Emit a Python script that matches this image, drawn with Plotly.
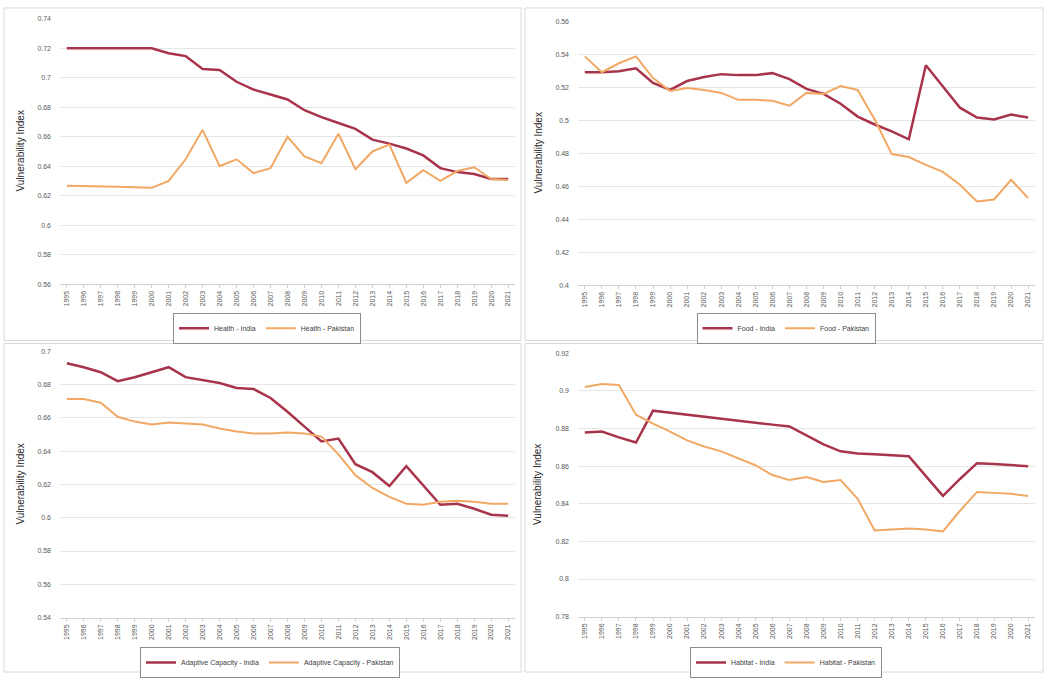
import plotly.graph_objects as go

years = list(range(1995, 2022))

health_india = [0.72, 0.72, 0.72, 0.72, 0.72, 0.72, 0.7167, 0.7147, 0.706, 0.7053, 0.6973, 0.692,
                0.6887, 0.6853, 0.678, 0.6733, 0.6693, 0.6653, 0.658, 0.6553, 0.652, 0.6473,
                0.6387, 0.636, 0.6347, 0.6313, 0.6313]
health_pakistan = [0.6267, 0.6263, 0.626, 0.626, 0.6257, 0.6253, 0.63, 0.6447, 0.6647, 0.64, 0.6447,
                   0.6353, 0.6387, 0.66, 0.6467, 0.642, 0.662, 0.638, 0.65, 0.6547, 0.6287, 0.6373,
                   0.63, 0.6367, 0.6393, 0.6313, 0.6307]

food_india = [0.5294, 0.5294, 0.53, 0.5318, 0.5228, 0.5186, 0.524, 0.5264, 0.5282, 0.5276, 0.5276,
              0.5288, 0.5252, 0.5192, 0.5162, 0.5102, 0.5024, 0.4976, 0.4934, 0.4886, 0.5336,
              0.521, 0.5078, 0.5018, 0.5006, 0.5036, 0.5018]
food_pakistan = [0.539, 0.5294, 0.5348, 0.539, 0.5258, 0.518, 0.5198, 0.5186, 0.5168, 0.5126, 0.5126,
                 0.512, 0.509, 0.5168, 0.5162, 0.521, 0.5186, 0.5006, 0.4796, 0.4778, 0.473,
                 0.4688, 0.461, 0.4508, 0.452, 0.464, 0.4528]

ac_india = [0.6929, 0.6905, 0.6875, 0.6821, 0.6845, 0.6875, 0.6905, 0.6845, 0.6827, 0.681, 0.678,
            0.6774, 0.672, 0.6637, 0.6548, 0.6459, 0.6476, 0.6322, 0.6274, 0.6191, 0.631, 0.6191,
            0.6078, 0.6084, 0.6054, 0.6018, 0.6012]
ac_pakistan = [0.6714, 0.6714, 0.6691, 0.6607, 0.6578, 0.656, 0.6572, 0.6566, 0.656, 0.6536, 0.6518,
               0.6506, 0.6506, 0.6512, 0.6506, 0.6488, 0.6381, 0.6256, 0.6179, 0.6125, 0.6084,
               0.6078, 0.6096, 0.6102, 0.6096, 0.6084, 0.6084]

habitat_india = [0.8779, 0.8784, 0.8753, 0.8726, 0.8895, 0.8884, 0.8874, 0.8863, 0.8853, 0.8842,
                 0.8832, 0.8821, 0.8811, 0.8763, 0.8716, 0.8679, 0.8668, 0.8663, 0.8658, 0.8653,
                 0.8547, 0.8442, 0.8532, 0.8616, 0.8611, 0.8605, 0.86]
habitat_pakistan = [0.9021, 0.9037, 0.9032, 0.8874, 0.8826, 0.8784, 0.8737, 0.8705, 0.8679, 0.8642,
                    0.8605, 0.8553, 0.8526, 0.8542, 0.8516, 0.8526, 0.8426, 0.8258, 0.8263, 0.8268,
                    0.8263, 0.8253, 0.8363, 0.8463, 0.8458, 0.8453, 0.8442]

panels = [
    ("Health", health_india, health_pakistan, [0.56, 0.74]),
    ("Food", food_india, food_pakistan, [0.40, 0.56]),
    ("Adaptive Capacity", ac_india, ac_pakistan, [0.54, 0.70]),
    ("Habitat", habitat_india, habitat_pakistan, [0.78, 0.92]),
]

W, H = 1046, 678
# plot areas in pixels: (left, right, top, bottom)
areas = [(60, 515, 15, 283), (578, 1035, 18, 284), (60, 515, 351, 620), (578, 1035, 353, 619)]
legend_pos = [(267, 312), (786, 312), (270, 650), (786, 650)]
frames = [(4, 521, 4, 340), (525, 1043, 4, 340), (4, 521, 343, 675), (525, 1043, 343, 675)]

INDIA = "#A8344B"
PAK = "#F2A865"

fig = go.Figure()
layout = dict(
    width=W, height=H, margin=dict(l=0, r=0, t=0, b=0),
    paper_bgcolor="white", plot_bgcolor="white", showlegend=True,
    font=dict(family="Liberation Sans, Arial, sans-serif", color="#404040"),
)
annotations = []
shapes = []
for i, (name, ind, pak, yr) in enumerate(panels):
    n = i + 1
    xa = "x" if n == 1 else f"x{n}"
    ya = "y" if n == 1 else f"y{n}"
    lg = "legend" if n == 1 else f"legend{n}"
    fig.add_trace(go.Scatter(x=years, y=ind, mode="lines", name=f"{name} - India",
                             line=dict(color=INDIA, width=2.5), xaxis=xa, yaxis=ya, legend=lg))
    fig.add_trace(go.Scatter(x=years, y=pak, mode="lines", name=f"{name} - Pakistan",
                             line=dict(color=PAK, width=2), xaxis=xa, yaxis=ya, legend=lg))
    l, r, t, b = areas[i]
    xkey = "xaxis" if n == 1 else f"xaxis{n}"
    ykey = "yaxis" if n == 1 else f"yaxis{n}"
    layout[xkey] = dict(domain=[l / W, r / W], anchor=ya, range=[1994.6, 2021.4],
                        tickvals=years, ticktext=[str(y) for y in years], tickangle=-90,
                        tickfont=dict(size=7, color="#595959"), showgrid=False,
                        showline=True, linecolor="#d0d0d0", ticks="outside",
                        tickcolor="#d0d0d0", ticklen=3, zeroline=False)
    layout[ykey] = dict(domain=[1 - b / H, 1 - t / H], anchor=xa, range=yr, dtick=0.02,
                        tick0=yr[0], tickfont=dict(size=7, color="#595959"),
                        ticklabelstandoff=8,
                        showgrid=True, gridcolor="#e6e6e6", gridwidth=1,
                        zeroline=False, showline=False)
    lx, ly = legend_pos[i]
    layout[lg] = dict(x=lx / W, y=1 - ly / H, xanchor="center", yanchor="top",
                      orientation="h", bordercolor="#8c8c8c", borderwidth=1,
                      bgcolor="white", font=dict(size=7, color="#404040"),
                      itemwidth=30, tracegroupgap=0)
    annotations.append(dict(text="Vulnerability Index", xref="paper", yref="paper",
                            x=(l - 40) / W, y=1 - ((t + b) / 2) / H, textangle=-90,
                            showarrow=False, font=dict(size=10, color="#262626"),
                            xanchor="center", yanchor="middle"))
    fl, fr, ft, fb = frames[i]
    shapes.append(dict(type="rect", xref="paper", yref="paper",
                       x0=fl / W, x1=fr / W, y0=1 - fb / H, y1=1 - ft / H,
                       line=dict(color="#d9d9d9", width=1), layer="below"))

layout["annotations"] = annotations
layout["shapes"] = shapes
fig.update_layout(**layout)
fig.write_html("out.html", config={"displayModeBar": False},
               post_script="document.body.style.margin='0';document.body.style.overflow='hidden';")
